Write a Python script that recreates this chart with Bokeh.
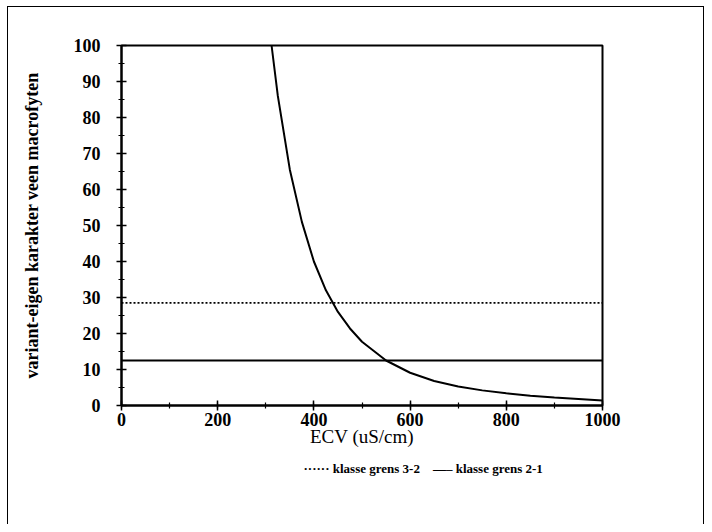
from bokeh.plotting import figure
from bokeh.models import Range1d, FixedTicker, ColumnDataSource, Title
from bokeh.embed import file_html
from bokeh.resources import INLINE

# data
ecv = [312, 325, 350, 375, 400, 425, 450, 475, 500, 550, 600, 650, 700, 750, 800, 850, 900, 950, 1000]
score = [100, 86, 65.5, 51, 40, 32, 26, 21.4, 17.7, 12.5, 9.1, 6.8, 5.3, 4.2, 3.4, 2.7, 2.2, 1.8, 1.4]
grens_32 = 28.5
grens_21 = 12.5
x_ticks = [0, 200, 400, 600, 800, 1000]
y_ticks = [0, 10, 20, 30, 40, 50, 60, 70, 80, 90, 100]
labels = ["klasse grens 3-2", "klasse grens 2-1"]

FONT = "Liberation Serif"

p = figure(width=697, height=518, output_backend="svg", toolbar_location=None,
           x_range=Range1d(0, 1000), y_range=Range1d(0, 100),
           min_border_left=113, min_border_right=103, min_border_top=38, min_border_bottom=120)
p.margin = (6, 0, 0, 7)
p.styles = {"border": "1.5px solid black", "border-bottom": "none", "box-sizing": "border-box"}
p.xgrid.visible = False
p.ygrid.visible = False
p.outline_line_color = "black"
p.outline_line_width = 2
p.background_fill_color = "white"
p.border_fill_color = "white"

for ax in (p.xaxis[0], p.yaxis[0]):
    ax.axis_line_width = 2
    ax.axis_line_color = "black"
    ax.major_tick_in = 5
    ax.major_tick_out = 5
    ax.minor_tick_in = 3
    ax.minor_tick_out = 3
    ax.major_tick_line_width = 1.5
    ax.minor_tick_line_width = 1.2
    ax.major_label_text_font = FONT
    ax.major_label_text_font_style = "bold"
    ax.major_label_text_font_size = "18px"
    ax.major_label_text_color = "black"
    ax.axis_label_text_font = FONT
    ax.axis_label_text_color = "black"

p.xaxis[0].ticker = FixedTicker(ticks=x_ticks, minor_ticks=list(range(0, 1001, 100)))
p.yaxis[0].ticker = FixedTicker(ticks=y_ticks, minor_ticks=list(range(0, 101, 5)))
p.xaxis[0].major_label_standoff = 2
p.yaxis[0].major_label_standoff = 16
p.xaxis.axis_label = "ECV (uS/cm)"
p.xaxis.axis_label_text_font_style = "normal"
p.xaxis.axis_label_text_font_size = "19px"
p.xaxis.axis_label_standoff = -3
p.yaxis.axis_label = "variant-eigen karakter veen macrofyten"
p.yaxis.axis_label_text_font_style = "bold"
p.yaxis.axis_label_text_font_size = "18px"
p.yaxis.axis_label_standoff = 29

src = ColumnDataSource(dict(x=ecv, y=score))
p.line("x", "y", source=src, line_color="black", line_width=2)
p.line([0, 1000], [grens_32, grens_32], line_color="black", line_width=1.8, line_dash="2 2")
p.line([0, 1000], [grens_21, grens_21], line_color="black", line_width=2)

# legend row below the x-axis title (line samples as text characters)
nb = "\u00a0"
legend_text = ("\u00b7" * 6 + nb + labels[0] + nb * 4 + "\u2014\u2013" + nb + labels[1])
leg = Title(text=legend_text, align="left", offset=182, standoff=19,
            text_font=FONT, text_font_style="bold", text_font_size="13px",
            text_color="black")
p.add_layout(leg, "below")

html = file_html(p, INLINE)
html = html.replace("</head>", "<style>html,body{overflow:hidden;}</style></head>", 1)
open("out.html", "w").write(html)
